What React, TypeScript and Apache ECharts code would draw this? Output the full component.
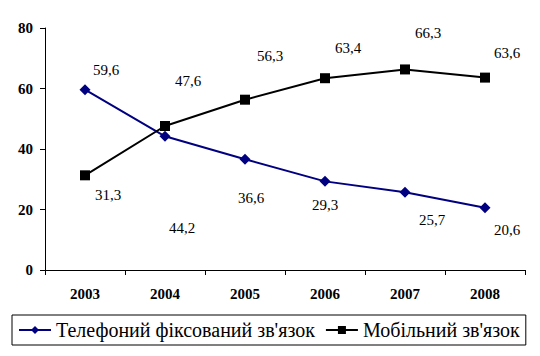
import React, { useEffect, useRef } from "react";
import * as echarts from "echarts";

const years = ["2003", "2004", "2005", "2006", "2007", "2008"];
const fixedName = "Телефоний фіксований зв'язок";
const mobileName = "Мобільний зв'язок";
const fixedValues = [59.6, 44.2, 36.6, 29.3, 25.7, 20.6];
const mobileValues = [31.3, 47.6, 56.3, 63.4, 66.3, 63.6];

// label offsets (px) relative to each point, as placed in the original
const fixedLabelOffsets = [[21, -20], [17, 92], [6, 39], [0, 24], [27, 28], [22, 22]];
const mobileLabelOffsets = [[23, 20], [23, -45], [25, -44], [23, -30], [23, -36], [22, -25]];

const fmt = (v: number) => v.toFixed(1).replace(".", ",");
const FONT = "Liberation Serif";

export default function App() {
  const ref = useRef<HTMLDivElement>(null);
  useEffect(() => {
    if (!ref.current) return;
    const chart = echarts.init(ref.current, null, { renderer: "svg" });
    const mk = (vals: number[], offs: number[][]) =>
      vals.map((v, i) => ({
        value: v,
        label: { offset: offs[i] },
      }));
    chart.setOption({
      animation: false,
      textStyle: { fontFamily: FONT },
      grid: { left: 45, right: 15, top: 28, bottom: 86 },
      legend: {
        left: 12,
        top: 315,
        padding: [5, 6, 5, 6],
        itemGap: 10,
        itemWidth: 32,
        itemHeight: 10,
        borderColor: "#000",
        borderWidth: 1,
        textStyle: { fontFamily: FONT, fontSize: 20, color: "#000" },
        data: [fixedName, mobileName],
      },
      xAxis: {
        type: "category",
        data: years,
        boundaryGap: true,
        axisLine: { lineStyle: { color: "#000", width: 1 } },
        axisTick: { show: true, length: 5, inside: false, lineStyle: { color: "#000" } },
        axisLabel: { color: "#000", fontWeight: "bold", fontSize: 15, fontFamily: FONT, margin: 16 },
        splitLine: { show: false },
      },
      yAxis: {
        type: "value",
        min: 0,
        max: 80,
        interval: 20,
        axisLine: { show: true, lineStyle: { color: "#000", width: 1 } },
        axisTick: { show: true, length: 5, lineStyle: { color: "#000" } },
        axisLabel: { color: "#000", fontWeight: "bold", fontSize: 15, fontFamily: FONT, margin: 12 },
        splitLine: { show: false },
      },
      series: [
        {
          name: fixedName,
          type: "line",
          data: mk(fixedValues, fixedLabelOffsets),
          symbol: "diamond",
          symbolSize: 11,
          lineStyle: { color: "#000080", width: 2 },
          itemStyle: { color: "#000080" },
          label: {
            show: true,
            position: "inside",
            formatter: (p: any) => fmt(p.value),
            color: "#000",
            fontSize: 15,
            fontFamily: FONT,
          },
        },
        {
          name: mobileName,
          type: "line",
          data: mk(mobileValues, mobileLabelOffsets),
          symbol: "rect",
          symbolSize: 10,
          lineStyle: { color: "#000", width: 2 },
          itemStyle: { color: "#000" },
          label: {
            show: true,
            position: "inside",
            formatter: (p: any) => fmt(p.value),
            color: "#000",
            fontSize: 15,
            fontFamily: FONT,
          },
        },
      ],
    });
    return () => chart.dispose();
  }, []);
  return <div ref={ref} style={{ width: 540, height: 356, position: "absolute", left: 0, top: 0 }} />;
}
